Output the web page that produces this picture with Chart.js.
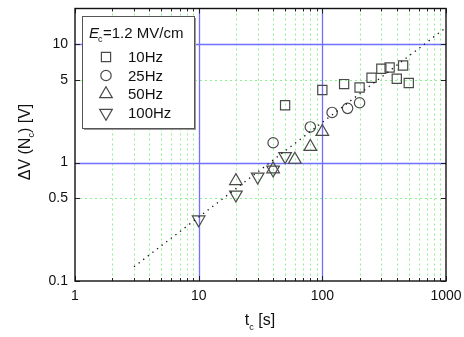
<!DOCTYPE html>
<html>
<head>
<meta charset="utf-8">
<script src="https://cdn.jsdelivr.net/npm/chart.js@4.4.1/dist/chart.umd.min.js"></script>
<style>
  html, body { margin: 0; padding: 0; background: #fff; }
  #wrap { width: 464px; height: 337px; position: relative; }
</style>
</head>
<body>
<div id="wrap"><canvas id="chart"></canvas></div>
<script>
// data
const hz10X = [50, 100, 150, 200, 250, 300, 350, 400, 450, 500];
const hz10Y = [3.05, 4.1, 4.6, 4.3, 5.2, 6.2, 6.35, 5.1, 6.6, 4.7];
const hz25X = [40, 80, 120, 160, 200];
const hz25Y = [1.47, 2.0, 2.65, 2.87, 3.2];
const hz50X = [20, 40, 60, 80, 100];
const hz50Y = [0.70, 0.88, 1.06, 1.36, 1.82];
const hz100X = [10, 20, 30, 40, 50];
const hz100Y = [0.33, 0.535, 0.76, 0.87, 1.13];
const fitX = [3, 1000];
const fitY = [0.132, 13.8];

const xTicks = [1, 10, 100, 1000];
const yTicks = [0.1, 0.5, 1, 5, 10];
const xMinorGrid = [2,3,4,5,6,7,8,9,20,30,40,50,60,70,80,90,200,300,400,500,600,700,800,900];
const xMajorGrid = [10, 100];
const yMinorGrid = [0.5, 5];
const yMajorGrid = [1, 10];

const legendTitle = '=1.2 MV/cm';
const legendLabels = ['10Hz', '25Hz', '50Hz', '100Hz'];

const FONT = '"Liberation Sans", Arial, sans-serif';
const SYM = '#4a4a4a';

function pts(xs, ys) {
    return xs.map((x, i) => ({ x: x, y: ys[i] }));
}

const symbols = [
    { pointStyle: 'rect', radius: 6.5, rotation: 0 },
    { pointStyle: 'circle', radius: 5.2, rotation: 0 },
    { pointStyle: 'triangle', radius: 7.3, rotation: 0 },
    { pointStyle: 'triangle', radius: 7.3, rotation: 180 }
];

function symDataset(xs, ys, s) {
    return {
        type: 'scatter',
        data: pts(xs, ys),
        pointStyle: s.pointStyle,
        pointRadius: s.radius,
        pointRotation: s.rotation,
        pointBorderColor: SYM,
        pointBackgroundColor: 'rgba(0,0,0,0)',
        pointBorderWidth: 1.2,
        showLine: false
    };
}

// grid, frame, tick marks
const gridPlugin = {
    id: 'grid',
    beforeDatasetsDraw(chart) {
        const { ctx, chartArea: a, scales } = chart;
        const xs = scales.x, ys = scales.y;
        ctx.save();
        ctx.lineWidth = 1;
        ctx.strokeStyle = '#8ef08e';
        ctx.setLineDash([2, 3]);
        xMinorGrid.forEach(v => {
            const px = Math.round(xs.getPixelForValue(v)) + 0.5;
            ctx.beginPath(); ctx.moveTo(px, a.top); ctx.lineTo(px, a.bottom); ctx.stroke();
        });
        yMinorGrid.forEach(v => {
            const py = Math.round(ys.getPixelForValue(v)) + 0.5;
            ctx.beginPath(); ctx.moveTo(a.left, py); ctx.lineTo(a.right, py); ctx.stroke();
        });
        ctx.setLineDash([]);
        ctx.strokeStyle = '#7070ff';
        ctx.lineWidth = 1.3;
        xMajorGrid.forEach(v => {
            const px = Math.round(xs.getPixelForValue(v)) + 0.5;
            ctx.beginPath(); ctx.moveTo(px, a.top); ctx.lineTo(px, a.bottom); ctx.stroke();
        });
        yMajorGrid.forEach(v => {
            const py = Math.round(ys.getPixelForValue(v)) + 0.5;
            ctx.beginPath(); ctx.moveTo(a.left, py); ctx.lineTo(a.right, py); ctx.stroke();
        });

        // tick marks, pointing inward
        ctx.strokeStyle = '#222';
        ctx.lineWidth = 1;
        xMinorGrid.concat(xTicks).forEach(v => {
            const px = Math.round(xs.getPixelForValue(v)) + 0.5;
            const len = xTicks.includes(v) ? 5 : 3;
            ctx.beginPath();
            ctx.moveTo(px, a.bottom); ctx.lineTo(px, a.bottom - len);
            ctx.moveTo(px, a.top); ctx.lineTo(px, a.top + len);
            ctx.stroke();
        });
        yTicks.forEach(v => {
            const py = Math.round(ys.getPixelForValue(v)) + 0.5;
            ctx.beginPath();
            ctx.moveTo(a.left, py); ctx.lineTo(a.left + 5, py);
            ctx.moveTo(a.right, py); ctx.lineTo(a.right - 5, py);
            ctx.stroke();
        });

        // frame
        ctx.lineWidth = 1.4;
        ctx.strokeStyle = '#111';
        ctx.strokeRect(a.left, a.top, a.right - a.left, a.bottom - a.top);
        ctx.restore();
    }
};

// legend box and axis titles (with subscripts)
const annotPlugin = {
    id: 'annot',
    afterDatasetsDraw(chart) {
        const ctx = chart.ctx;
        ctx.save();
        // shadow + box
        const bx = 82, by = 16, bw = 112, bh = 112;
        ctx.fillStyle = '#9a9a9a';
        ctx.fillRect(bx + 2, by + 2, bw, bh);
        ctx.fillStyle = '#fff';
        ctx.fillRect(bx, by, bw, bh);
        ctx.strokeStyle = '#555';
        ctx.lineWidth = 1;
        ctx.strokeRect(bx + 0.5, by + 0.5, bw, bh);

        ctx.fillStyle = '#111';
        ctx.textBaseline = 'alphabetic';
        ctx.textAlign = 'left';
        ctx.font = 'italic 15px ' + FONT;
        ctx.fillText('E', 89, 38);
        let w = ctx.measureText('E').width;
        ctx.font = '9px ' + FONT;
        ctx.fillText('c', 89 + w - 1, 42);
        ctx.font = '15px ' + FONT;
        ctx.fillText(legendTitle, 89 + w + 4, 38);

        const rowY = [57, 75.5, 94, 113];
        legendLabels.forEach((lab, i) => {
            const s = symbols[i];
            ctx.strokeStyle = SYM;
            ctx.fillStyle = 'rgba(0,0,0,0)';
            ctx.lineWidth = 1.2;
            Chart.helpers.drawPoint(ctx, {
                pointStyle: s.pointStyle, radius: s.radius, rotation: s.rotation, borderWidth: 1.2
            }, 106, rowY[i]);
            ctx.fillStyle = '#111';
            ctx.font = '15px ' + FONT;
            ctx.textBaseline = 'middle';
            ctx.fillText(lab, 128, rowY[i] + 1);
        });

        // x title: t_c [s]
        ctx.textBaseline = 'alphabetic';
        ctx.font = '16px ' + FONT;
        const tW = ctx.measureText('t').width;
        const rest = ' [s]';
        const rW = ctx.measureText(rest).width;
        ctx.font = '9px ' + FONT;
        const cW = ctx.measureText('c').width;
        let x0 = 260 - (tW + cW + rW) / 2;
        ctx.font = '16px ' + FONT;
        ctx.fillText('t', x0, 325);
        ctx.font = '9px ' + FONT;
        ctx.fillText('c', x0 + tW, 330);
        ctx.font = '16px ' + FONT;
        ctx.fillText(rest, x0 + tW + cW, 325);

        // y title: ΔV (N_c) [V]
        ctx.translate(30, 142);
        ctx.rotate(-Math.PI / 2);
        ctx.font = '16px ' + FONT;
        const p1 = '\u0394V (N', p2 = ') [V]';
        const w1 = ctx.measureText(p1).width, w2 = ctx.measureText(p2).width;
        ctx.font = '9px ' + FONT;
        const ws = ctx.measureText('c').width;
        let y0 = -(w1 + ws + w2) / 2;
        ctx.font = '16px ' + FONT;
        ctx.fillText(p1, y0, 0);
        ctx.font = '9px ' + FONT;
        ctx.fillText('c', y0 + w1, 4);
        ctx.font = '16px ' + FONT;
        ctx.fillText(p2, y0 + w1 + ws, 0);
        ctx.restore();
    }
};

function initChart() {
    const ctx = document.getElementById('chart').getContext('2d');
    new Chart(ctx, {
        data: {
            datasets: [
                {
                    type: 'line',
                    data: pts(fitX, fitY),
                    borderColor: '#111',
                    borderWidth: 1.3,
                    borderDash: [1.3, 4.5],
                    pointRadius: 0,
                    fill: false
                },
                symDataset(hz10X, hz10Y, symbols[0]),
                symDataset(hz25X, hz25Y, symbols[1]),
                symDataset(hz50X, hz50Y, symbols[2]),
                symDataset(hz100X, hz100Y, symbols[3])
            ]
        },
        options: {
            responsive: true,
            maintainAspectRatio: false,
            animation: false,
            layout: { padding: { left: 0, right: 18, top: 6, bottom: 0 } },
            plugins: { legend: { display: false }, tooltip: { enabled: false } },
            scales: {
                x: {
                    type: 'logarithmic',
                    min: 1, max: 1000,
                    afterBuildTicks: s => { s.ticks = xTicks.map(v => ({ value: v })); },
                    afterFit: s => { s.height = 56; s.paddingLeft = 0; s.paddingRight = 0; },
                    grid: { display: false, drawTicks: false },
                    border: { display: false },
                    ticks: {
                        autoSkip: false, maxRotation: 0, padding: 7,
                        color: '#111',
                        font: { family: FONT, size: 14 },
                        callback: v => String(v)
                    }
                },
                y: {
                    type: 'logarithmic',
                    min: 0.1, max: 20,
                    afterBuildTicks: s => { s.ticks = yTicks.map(v => ({ value: v })); },
                    afterFit: s => { s.width = 75; s.paddingTop = 0; s.paddingBottom = 0; },
                    grid: { display: false, drawTicks: false },
                    border: { display: false },
                    ticks: {
                        autoSkip: false, padding: 7,
                        color: '#111',
                        font: { family: FONT, size: 14 },
                        callback: v => String(v)
                    }
                }
            }
        },
        plugins: [gridPlugin, annotPlugin]
    });
}

document.addEventListener('DOMContentLoaded', initChart);
</script>
</body>
</html>
